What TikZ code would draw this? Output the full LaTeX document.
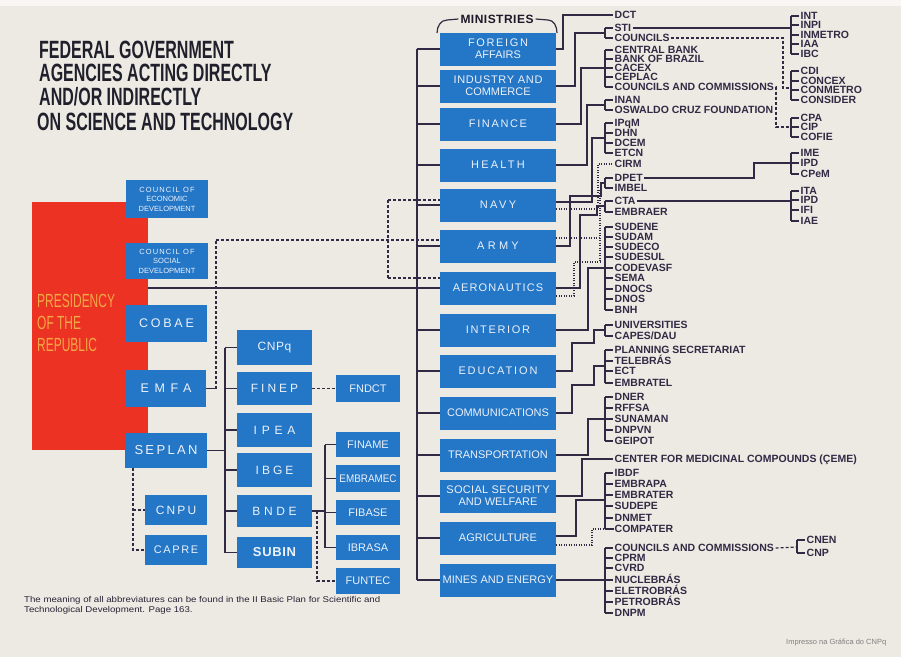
\documentclass[tikz,border=0pt]{standalone}
\usepackage{fontspec}
\setmainfont{Liberation Sans}
\newfontfamily\titlefont[FakeStretch=0.64]{Liberation Sans}
\newfontfamily\presfont[FakeStretch=0.63]{Liberation Sans}
\newfontfamily\narrowfont[FakeStretch=0.9]{Liberation Sans}
\newfontfamily\widefont[FakeStretch=1.15]{Liberation Sans}
\newcommand\ls[1]{\addfontfeature{LetterSpace=#1}}
\definecolor{paper}{RGB}{237,234,227}
\definecolor{boxblue}{RGB}{36,118,198}
\definecolor{boxtext}{RGB}{236,242,250}
\definecolor{ink}{RGB}{48,42,68}
\definecolor{presred}{RGB}{236,50,34}
\definecolor{presyel}{RGB}{242,168,70}
\newcommand\itm[4]{\node[item] (#1) at (#2,#3) {#4};}
\newcommand\brk[3]{\draw[ln] ([xshift=-8pt]#1.west) -- ([xshift=-8pt]#2.west);
  \foreach \n in {#3} {\draw[ln] (\n.west) -- ++(-8,0);}}
\begin{document}
\begin{tikzpicture}[x=1pt,y=-1pt,
  ln/.style={draw=ink,line width=1.2pt},
  dsh/.style={ln,dash pattern=on 3pt off 2pt},
  dot/.style={ln,line width=1.1pt,dash pattern=on 1.2pt off 1.3pt},
  bx/.style={fill=boxblue,text=boxtext,inner sep=0pt,align=center,font=\fontsize{11}{12}\selectfont},
  mbox/.style={bx,minimum width=116pt,minimum height=33pt},
  sbox/.style={bx,minimum width=64pt,minimum height=26pt,font=\fontsize{11}{12}\selectfont},
  cbox/.style={bx,minimum width=75pt,minimum height=33pt,font=\fontsize{12}{13}\selectfont},
  item/.style={anchor=west,inner xsep=1.5pt,inner ysep=0pt,text height=7.5pt,text depth=0pt,text=ink,font=\fontsize{10.5}{11}\selectfont\bfseries},
  ttl/.style={anchor=west,inner sep=0pt,text height=17.9pt,text depth=0pt,text={rgb,255:red,32;green,32;blue,44},font=\titlefont\fontsize{25}{25}\selectfont\bfseries},
]
\useasboundingbox (0,0) rectangle (901,657);
\fill[paper] (0,0) rectangle (901,657);
\fill[white!60!paper] (0,0) rectangle (901,6);

% title
\node[ttl] (t1) at (39,50) {FEDERAL GOVERNMENT};
\node[ttl] (t2) at (39,73) {AGENCIES ACTING DIRECTLY};
\node[ttl] (t3) at (39,97) {AND/OR INDIRECTLY};
\node[ttl] (t4) at (37,122) {ON SCIENCE AND TECHNOLOGY};

% presidency
\node[fill=presred,minimum width=116pt,minimum height=248pt,inner sep=0pt] (pres) at (90,326) {};
\node[anchor=north west,inner sep=0pt,align=left,text=presyel,font=\presfont\fontsize{19}{22}\selectfont] (prestxt) at (37,294) {PRESIDENCY\\OF THE\\REPUBLIC};

% presidency line to ministries bus
\draw[ln] (pres.east |- 0,288) -- (417,288);

% left boxes
\node[bx,minimum width=82pt,minimum height=38pt,font=\fontsize{7.5}{9.5}\selectfont] (ced) at (167,199) {\ls{15}COUNCIL OF\\ECONOMIC\\DEVELOPMENT};
\node[bx,minimum width=82pt,minimum height=36pt,font=\fontsize{7.5}{9.5}\selectfont] (csd) at (167,261) {\ls{15}COUNCIL OF\\SOCIAL\\DEVELOPMENT};
\node[bx,minimum width=81pt,minimum height=37pt,font=\fontsize{12.5}{13}\selectfont] (cobae) at (166.5,323.5) {\ls{22}COBAE};
\node[bx,minimum width=80pt,minimum height=37pt,font=\fontsize{12.5}{13}\selectfont] (emfa) at (166,388.5) {\ls{45}EMFA};
\node[bx,minimum width=82pt,minimum height=35pt,font=\fontsize{13}{14}\selectfont] (seplan) at (166,450.5) {\ls{18}SEPLAN};
\node[bx,minimum width=62pt,minimum height=30pt,font=\fontsize{12}{13}\selectfont] (cnpu) at (176,510) {\ls{18}CNPU};
\node[bx,minimum width=62pt,minimum height=30pt,font=\fontsize{11}{12}\selectfont] (capre) at (176,550) {\ls{15}CAPRE};

\node[cbox,minimum height=35pt] (cnpq) at (274.5,347.5) {\ls{5}CNPq};
\node[cbox] (finep) at (274.5,388.5) {\ls{25}FINEP};
\node[cbox,minimum height=34pt] (ipea) at (274.5,430) {\ls{40}IPEA};
\node[cbox,minimum height=34pt] (ibge) at (274.5,470) {\ls{25}IBGE};
\node[cbox,minimum height=32pt] (bnde) at (274.5,511) {\ls{30}BNDE};
\node[cbox,minimum height=31pt,font=\fontsize{13}{14}\selectfont\bfseries] (subin) at (274.5,552.5) {\ls{5}SUBIN};

\node[sbox,minimum height=27pt] (fndct) at (368,388.5) {FNDCT};
\node[sbox,minimum height=25pt] (finame) at (368,444.5) {FINAME};
\node[sbox,minimum height=27pt,font=\narrowfont\fontsize{11}{12}\selectfont] (embramec) at (368,478.5) {EMBRAMEC};
\node[sbox,minimum height=25pt] (fibase) at (368,512.5) {FIBASE};
\node[sbox,minimum height=25pt] (ibrasa) at (368,547.5) {IBRASA};
\node[sbox,minimum height=26pt] (funtec) at (368,581) {FUNTEC};

% left connectors
\draw[ln] (emfa.east) -- (216,388.5);
\draw[dsh] (216,388.5) -- (216,240);
\draw[ln] (seplan.east) -- (225,450.5);
\draw[ln] (225,347.5) -- (225,552.5);
\foreach \b in {cnpq,finep,ipea,ibge,bnde,subin} {\draw[ln] (\b.west) -- ++(-12,0);}
\draw[dsh] (133,468) -- (133,550) -- (capre.west);
\draw[dsh] (133,510) -- (cnpu.west);
\draw[dsh] (finep.east) -- (fndct.west);
\draw[ln] (bnde.east) -- (325,511);
\draw[ln] (325,444.5) -- (325,547.5);
\foreach \b in {finame,embramec,fibase,ibrasa} {\draw[ln] (\b.west) -- ++(-11,0);}
\draw[dsh] (317,511) -- (317,581) -- (funtec.west);

% ministries
\node[inner xsep=2pt,inner ysep=0pt,text=ink!60!black,font=\fontsize{12}{12}\selectfont\bfseries] (minhdr) at (497,19) {\ls{4}MINISTRIES};
\draw[ln] (437,33) to[out=90,in=180] (447,20) -- (minhdr.west);
\draw[ln] (minhdr.east) -- (548,20) to[out=0,in=90] (557,33);

\node[mbox] (foreign) at (498,49) {\ls{15}FOREIGN\\AFFAIRS};
\node[mbox] (industry) at (498,86) {\ls{6}INDUSTRY AND\\COMMERCE};
\node[mbox] (finance) at (498,124) {\ls{15}FINANCE};
\node[mbox] (health) at (498,165) {\ls{20}HEALTH};
\node[mbox] (navy) at (498,205) {\ls{22}NAVY};
\node[mbox] (army) at (498,246) {\ls{30}ARMY};
\node[mbox] (aero) at (498,288) {\ls{10}AERONAUTICS};
\node[mbox] (interior) at (498,330) {\ls{15}INTERIOR};
\node[mbox] (education) at (498,371) {\ls{17}EDUCATION};
\node[mbox] (comm) at (498,413) {COMMUNICATIONS};
\node[mbox] (transp) at (498,455) {TRANSPORTATION};
\node[mbox] (social) at (498,496) {\ls{3}SOCIAL SECURITY\\AND WELFARE};
\node[mbox] (agri) at (498,538) {AGRICULTURE};
\node[mbox] (mines) at (498,580) {MINES AND ENERGY};

\draw[ln] (417,49) -- (417,580);
\foreach \m in {foreign,industry,finance,health,navy,army,aero,interior,education,comm,transp,social,agri,mines} {\draw[ln] (\m.west) -- ++(-23,0);}

% EMFA dashed to military ministries
\draw[dsh] (216,240) -- ([yshift=6pt]army.west);
\draw[dsh] (388,200) -- (388,278);
\draw[dsh] (388,200) -- ([yshift=5pt]navy.west);
\draw[dsh] (388,278) -- ([yshift=10pt]aero.west);

% lists (middle column)
\itm{dct}{613}{15}{DCT}
\itm{sti}{613}{28}{STI}
\itm{cou}{613}{38}{COUNCILS}
\itm{cb}{613}{50}{CENTRAL BANK}
\itm{bb}{613}{59}{BANK OF BRAZIL}
\itm{cacex}{613}{68}{CACEX}
\itm{ceplac}{613}{77}{CEPLAC}
\itm{cc1}{613}{87}{COUNCILS AND COMMISSIONS}
\itm{inan}{613}{100}{INAN}
\itm{ocf}{613}{110}{OSWALDO CRUZ FOUNDATION}
\itm{ipqm}{613}{123}{IPqM}
\itm{dhn}{613}{133}{DHN}
\itm{dcem}{613}{143}{DCEM}
\itm{etcn}{613}{153}{ETCN}
\itm{cirm}{613}{164}{CIRM}
\itm{dpet}{613}{178}{DPET}
\itm{imbel}{613}{188}{IMBEL}
\itm{cta}{613}{201}{CTA}
\itm{embraer}{613}{212}{EMBRAER}
\itm{sudene}{613}{227}{SUDENE}
\itm{sudam}{613}{237}{SUDAM}
\itm{sudeco}{613}{247}{SUDECO}
\itm{sudesul}{613}{257}{SUDESUL}
\itm{codevasf}{613}{268}{CODEVASF}
\itm{sema}{613}{278}{SEMA}
\itm{dnocs}{613}{289}{DNOCS}
\itm{dnos}{613}{299}{DNOS}
\itm{bnh}{613}{310}{BNH}
\itm{univ}{613}{325}{UNIVERSITIES}
\itm{capes}{613}{336}{CAPES/DAU}
\itm{plan}{613}{350}{PLANNING SECRETARIAT}
\itm{telebras}{613}{361}{TELEBRÁS}
\itm{ect}{613}{371}{ECT}
\itm{embratel}{613}{383}{EMBRATEL}
\itm{dner}{613}{397}{DNER}
\itm{rffsa}{613}{408}{RFFSA}
\itm{sunaman}{613}{419}{SUNAMAN}
\itm{dnpvn}{613}{430}{DNPVN}
\itm{geipot}{613}{441}{GEIPOT}
\itm{ceme}{613}{459}{CENTER FOR MEDICINAL COMPOUNDS (ÇEME)}
\itm{ibdf}{613}{473}{IBDF}
\itm{embrapa}{613}{484}{EMBRAPA}
\itm{embrater}{613}{495}{EMBRATER}
\itm{sudepe}{613}{506}{SUDEPE}
\itm{dnmet}{613}{518}{DNMET}
\itm{compater}{613}{529}{COMPATER}
\itm{cc2}{613}{548}{COUNCILS AND COMMISSIONS}
\itm{cprm}{613}{558}{CPRM}
\itm{cvrd}{613}{568}{CVRD}
\itm{nuclebras}{613}{580}{NUCLEBRÁS}
\itm{eletrobras}{613}{591}{ELETROBRÁS}
\itm{petrobras}{613}{602}{PETROBRÁS}
\itm{dnpm}{613}{613}{DNPM}

% far right column
\itm{int}{799}{16}{INT}
\itm{inpi}{799}{25}{INPI}
\itm{inmetro}{799}{35}{INMETRO}
\itm{iaa}{799}{44}{IAA}
\itm{ibc}{799}{54}{IBC}
\itm{cdi}{799}{71}{CDI}
\itm{concex}{799}{81}{CONCEX}
\itm{conmetro}{799}{90}{CONMETRO}
\itm{consider}{799}{100}{CONSIDER}
\itm{cpa}{799}{118}{CPA}
\itm{cip}{799}{127}{CIP}
\itm{cofie}{799}{137}{COFIE}
\itm{ime}{799}{153}{IME}
\itm{ipdA}{799}{163}{IPD}
\itm{cpem}{799}{174}{CPeM}
\itm{ita}{799}{191}{ITA}
\itm{ipdB}{799}{200}{IPD}
\itm{ifi}{799}{210}{IFI}
\itm{iae}{799}{221}{IAE}
\itm{cnen}{805}{540}{CNEN}
\itm{cnp}{805}{553}{CNP}

% brackets
\brk{sti}{cou}{sti,cou}
\brk{cb}{cc1}{cb,bb,cacex,ceplac,cc1}
\brk{inan}{ocf}{inan,ocf}
\brk{ipqm}{etcn}{ipqm,dhn,dcem,etcn}
\brk{dpet}{imbel}{dpet,imbel}
\brk{cta}{embraer}{cta,embraer}
\brk{sudene}{bnh}{sudene,sudam,sudeco,sudesul,codevasf,sema,dnocs,dnos,bnh}
\brk{univ}{capes}{univ,capes}
\brk{plan}{embratel}{plan,telebras,ect,embratel}
\brk{dner}{geipot}{dner,rffsa,sunaman,dnpvn,geipot}
\brk{ibdf}{compater}{ibdf,embrapa,embrater,sudepe,dnmet,compater}
\brk{cc2}{dnpm}{cc2,cprm,cvrd,nuclebras,eletrobras,petrobras,dnpm}
\brk{int}{ibc}{int,inpi,inmetro,iaa,ibc}
\brk{cdi}{consider}{cdi,concex,conmetro,consider}
\brk{cpa}{cofie}{cpa,cip,cofie}
\brk{ime}{cpem}{ime,ipdA,cpem}
\brk{ita}{iae}{ita,ipdB,ifi,iae}
\brk{cnen}{cnp}{cnen,cnp}

% ministries to lists
\draw[ln] (foreign.east) -| (563,15) -- (dct.west);
\draw[ln] (industry.east) -| (575,33) -- (605,33);
\draw[ln] (finance.east) -| (581,68) -- (605,68);
\draw[ln] (health.east) -| (587,105) -- (605,105);
\draw[ln] ([yshift=3pt]navy.east) -| (592,138) -- (605,138);
\draw[dot] ([yshift=-4pt]navy.east) -| (598,164) -- (cirm.west);
\draw[ln] (army.east) -| (570,196) -| (601,183) -- (605,183);
\draw[dot] ([yshift=8pt]army.east) -- (600,238);
\draw[dot] (600,190) -- (600,262);
\draw[ln] (aero.east) -| (580,215) -| (597,206) -- (605,206);
\draw[dot] ([yshift=-8pt]aero.east) -| (574,262) -- (600,262);
\draw[ln] (interior.east) -| (588,268) -- (605,268);
\draw[ln] (education.east) -| (572,343) -| (594,330) -- (605,330);
\draw[ln] (comm.east) -| (572,385) -| (594,366) -- (605,366);
\draw[ln] (transp.east) -| (588,419) -- (605,419);
\draw[ln] (social.east) -| (582,459) -- (ceme.west);
\draw[ln] ([yshift=2pt]agri.east) -| (576,500) -- (605,500);
\draw[dot] ([yshift=-7pt]agri.east) -| (592,529) -- (compater.west);
\draw[ln] (mines.east) -- (605,580);

% lists to far right
\draw[ln] (sti.east) -- (791,28);
\draw[dsh] (cou.east) -| (783,88) -- (791,88);
\draw[dsh] (cc1.east) -| (776,127) -- (791,127);
\draw[ln] (dpet.east) -| (754,163) -- (791,163);
\draw[ln] (cta.east) -- (791,201);
\draw[dsh] (cc2.east) -- (797,547);

% footnotes
\node[anchor=north west,inner sep=0pt,align=left,text=ink!80!black,font=\widefont\fontsize{8.4}{10.5}\selectfont] (foot) at (24,596) {The meaning of all abbreviatures can be found in the II Basic Plan for Scientific and\\Technological Development. Page 163.};
\node[anchor=west,inner sep=0pt,text=gray,font=\fontsize{7.5}{8}\selectfont] (credit) at (786,643) {Impresso na Gráfica do CNPq};
\end{tikzpicture}
\end{document}
